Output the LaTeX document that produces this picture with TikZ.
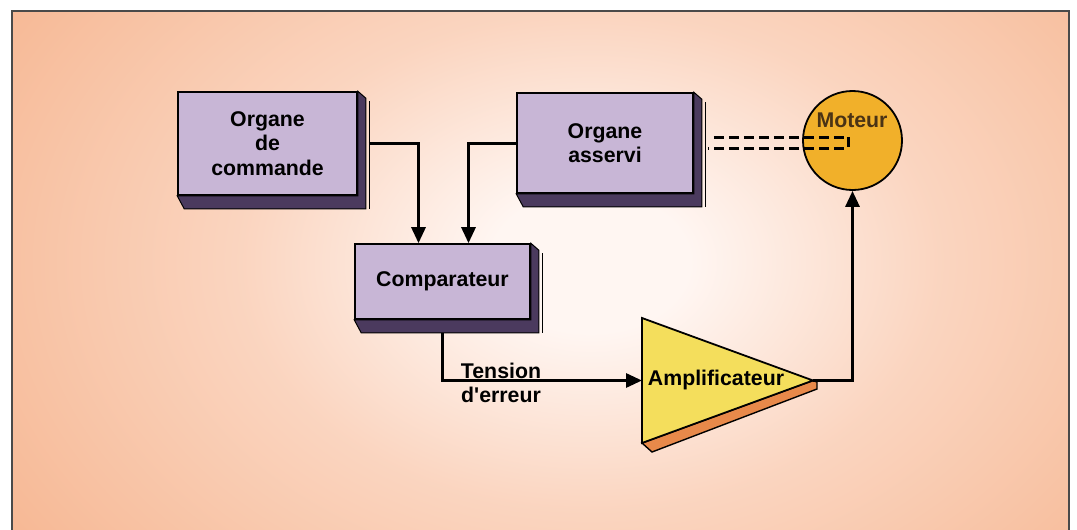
\documentclass[tikz,border=0pt]{standalone}
\usepackage{fontspec}
\setmainfont{Liberation Sans}
\usetikzlibrary{arrows.meta}

\definecolor{paper}{HTML}{F6B48E}
\definecolor{glowc}{HTML}{FFF6F2}
\definecolor{facec}{HTML}{C8B6D6}
\definecolor{slabc}{HTML}{4B3A5E}
\definecolor{ampc}{HTML}{F4DE5C}
\definecolor{ampedge}{HTML}{E8894A}
\definecolor{motc}{HTML}{F1B02A}
\definecolor{mottext}{HTML}{4A3315}
\definecolor{framec}{HTML}{4A4A4A}

% soft light spot in the middle of the sheet
\pgfdeclareradialshading{glow}{\pgfpoint{0bp}{0bp}}{%
  color(0bp)=(glowc); color(4bp)=(glowc); color(14bp)=(glowc!50!paper);
  color(30bp)=(paper); color(80bp)=(paper)}

\newcommand\labfont{\fontsize{21.3}{24.5}\selectfont\bfseries}

% dark extruded edge below and to the right of a block
\newcommand\slab[1]{%
  \filldraw[slabc, draw=black, line width=1pt]
    (#1.north east) -- ([shift={(8,7)}]#1.north east)
    -- ([shift={(8,13)}]#1.south east) -- ([shift={(7,13)}]#1.south west)
    -- (#1.south west) -- (#1.south east) -- cycle;
  \draw[line width=1.2pt] ([shift={(12,10)}]#1.north east)
    -- ([shift={(12,13)}]#1.south east);
}

\tikzset{
  block/.style={draw=black, line width=1.6pt, fill=facec, inner sep=0pt,
    align=center, font=\labfont},
  lbl/.style={inner sep=0pt, align=center, font=\labfont},
  wire/.style={line width=3pt, line join=miter,
    -{Triangle[length=16pt,width=14pt]}},
  shaft/.style={line width=3pt, dash pattern=on 10pt off 5pt},
  edge/.style={draw=framec, line width=1.2pt},
}

\begin{document}
\begin{tikzpicture}[x=1pt, y=-1pt]
\useasboundingbox (0,0) rectangle (1077,530);
\fill[white] (0,0) rectangle (1077,530);

% sheet
\fill[paper] (12,11) rectangle (1069,530);
\begin{scope}
  \clip (12,11) rectangle (1069,530);
  \shade[shading=glow] (-30,-178) rectangle (1210,702);
\end{scope}
\draw[edge] (12,530) -- (12,11) -- (1069,11) -- (1069,530);

% blocks
\node[block, minimum width=179, minimum height=103] (cmd) at (267.5,143.5)
  {Organe\\de\\commande};
\node[block, minimum width=176, minimum height=100] (srv) at (605,143)
  {Organe\\asservi};
\node[block, minimum width=175, minimum height=75] (cmp) at (442.5,281.5)
  {Comparateur};
\slab{cmd}
\slab{srv}
\slab{cmp}

% amplifier
\coordinate (ampin) at (642,380.5);
\coordinate (ampout) at (813,380.5);
\filldraw[fill=ampedge, draw=black, line width=1.4pt]
  (642,443) -- (ampout) -- (817,382) -- (817,389) -- (652,452) -- cycle;
\filldraw[fill=ampc, draw=black, line width=1.8pt, line join=miter]
  (642,318) -- (ampout) -- (642,443) -- cycle;
\node[lbl] (amp) at (716,380) {Amplificateur};

% motor
\node[circle, draw=black, line width=1.8pt, fill=motc, minimum size=99,
  inner sep=0pt] (mot) at (852.5,140.5) {};
\node[lbl, text=mottext] (motl) at (852,120) {Moteur};

% mechanical link between the motor and the driven member
\draw[shaft] ([shift={(20,-6)}]srv.east) -- ([shift={(-4,-3.5)}]mot.center)
  -- ([shift={(-4,7.5)}]mot.center) -- ([shift={(14,5)}]srv.east);

% signal paths
\draw[wire] ([shift={(11,0)}]cmd.east) -| ([shift={(-24,0)}]cmp.north);
\draw[wire] (srv.west) -| ([shift={(26,0)}]cmp.north);
\draw[wire] ([shift={(0,13)}]cmp.south) |- (ampin);
\draw[wire] (ampout) -| (mot.south);

\node[lbl] (err) at (501,383) {Tension\\d\textquotesingle erreur};
\end{tikzpicture}
\end{document}
